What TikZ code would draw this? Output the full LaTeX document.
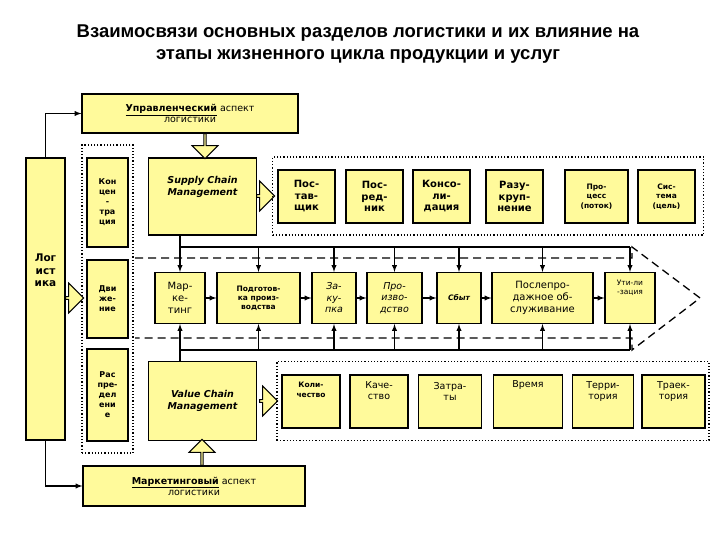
\documentclass[tikz,border=0pt]{standalone}
\usepackage{fontspec}
\setmainfont{DejaVu Sans}
\newfontfamily\titlefont{Liberation Sans}
\usetikzlibrary{arrows, shapes.arrows}
\definecolor{boxyellow}{RGB}{255,250,155}
\begin{document}
\begin{tikzpicture}[
    x=1pt, y=-1pt,
    box/.style={draw,line width=1.2pt,fill=boxyellow,align=center,inner sep=1pt,font=\fontsize{9.5}{11}\selectfont},
    group/.style={draw,dotted,line width=1.2pt},
    link/.style={draw,line width=1.3pt},
    feed/.style={draw,-latex,line width=1.3pt},
    fat/.style={single arrow,draw,line width=1pt,fill=boxyellow,minimum width=26pt,single arrow head extend=5pt,inner sep=0pt}]
  \useasboundingbox (0,0) rectangle (720,540);
  \node[font=\titlefont\bfseries\fontsize{18.5}{22}\selectfont,align=center] (title) at (358,44)
    {Взаимосвязи основных разделов логистики и их влияние на\\этапы жизненного цикла продукции и услуг};
  % aspects and the logistics column
  \node[box,minimum width=216pt,minimum height=39pt] (ctrl) at (190,113.5)
    {\underline{\textbf{Управленческий}} аспект\\логистики};
  \node[box,minimum width=222pt,minimum height=40pt] (mktasp) at (194,486)
    {\underline{\textbf{Маркетинговый}} аспект\\логистики};
  \node[box,minimum width=39pt,minimum height=282pt,font=\bfseries\fontsize{10.5}{12.5}\selectfont] (logist) at (45.5,299) {Лог\\ист\\ика\\[45pt]};
  \draw[feed] (logist.north) |- (ctrl.west);
  \draw[feed] (logist.south) |- (mktasp.west);
  % left group
  \node[group,minimum width=51pt,minimum height=308pt] (lgroup) at (107.5,299) {};
  \node[box,minimum width=41pt,minimum height=89pt,font=\bfseries\fontsize{8}{10}\selectfont] (conc) at (107.5,202.5) {Кон\\цен\\-\\тра\\ция};
  \node[box,minimum width=41pt,minimum height=78pt,font=\bfseries\fontsize{8}{10}\selectfont] (move) at (107.5,299) {Дви\\же-\\ние};
  \node[box,minimum width=41pt,minimum height=92pt,font=\bfseries\fontsize{8}{10}\selectfont] (distr) at (107.5,395) {Рас\\пре-\\дел\\ени\\е};
  % management boxes
  \node[box,minimum width=108pt,minimum height=77pt,font=\bfseries\itshape\fontsize{9.5}{12}\selectfont] (scm) at (202.5,196.5) {Supply Chain\\Management\\[10pt]};
  \node[box,minimum width=108pt,minimum height=79pt,font=\bfseries\itshape\fontsize{9.5}{12}\selectfont] (vcm) at (202.5,401) {Value Chain\\Management};
  \node[fat,minimum height=25pt,rotate=-90] (arrctrl) at (205,145.5) {};
  \node[fat,minimum height=26pt,rotate=90] (arrmkt) at (202,453) {};
  \node[fat,minimum height=18pt,minimum width=30pt] (arrlog) at (74,298) {};
  \node[fat,minimum height=18pt,minimum width=30pt] (arrscm) at (265,196) {};
  \node[fat,minimum height=18pt,minimum width=30pt] (arrvcm) at (268,401) {};
  % top group
  \node[group,minimum width=431pt,minimum height=78pt] (tgroup) at (488,196) {};
  \node[box,minimum width=57pt,minimum height=53pt,font=\bfseries\fontsize{10}{11.5}\selectfont] (supp) at (306.5,196.5) {Пос-\\тав-\\щик};
  \node[box,minimum width=57pt,minimum height=53pt,font=\bfseries\fontsize{10}{11.5}\selectfont] (inter) at (374.5,196.5) {Пос-\\ред-\\ник};
  \node[box,minimum width=57pt,minimum height=53pt,font=\bfseries\fontsize{10}{11.5}\selectfont] (consol) at (441.5,196.5) {Консо-\\ли-\\дация};
  \node[box,minimum width=57pt,minimum height=53pt,font=\bfseries\fontsize{10}{11.5}\selectfont] (split) at (514.5,196.5) {Разу-\\круп-\\нение};
  \node[box,minimum width=63pt,minimum height=53pt,font=\bfseries\fontsize{7.5}{9.5}\selectfont] (proc) at (596.5,196.5) {Про-\\цесс\\(поток)};
  \node[box,minimum width=57pt,minimum height=53pt,font=\bfseries\fontsize{7.5}{9.5}\selectfont] (sys) at (666.5,196.5) {Сис-\\тема\\(цель)};
  % life cycle band
  \draw[dashed,line width=1.3pt,dash pattern=on 8pt off 5pt] (135,258) -- (632,258) -- (632,247) -- (700,298)
    -- (632,350) -- (632,338) -- (135,338);
  \node[box,minimum width=50pt,minimum height=51pt,font=\fontsize{10}{12}\selectfont] (mark) at (180,298) {Мар-\\ке-\\тинг};
  \node[box,minimum width=83pt,minimum height=51pt,font=\bfseries\fontsize{7.5}{9}\selectfont] (prep) at (258.5,298) {Подготов-\\ка произ-\\водства};
  \node[box,minimum width=44pt,minimum height=51pt,font=\itshape\fontsize{9.5}{11.5}\selectfont] (purch) at (334,298) {За-\\ку-\\пка};
  \node[box,minimum width=55pt,minimum height=51pt,font=\itshape\fontsize{9.5}{11.5}\selectfont] (prod) at (394.5,298) {Про-\\изво-\\дство};
  \node[box,minimum width=44pt,minimum height=51pt,font=\bfseries\itshape\fontsize{7.5}{9}\selectfont] (sales) at (459,298) {Сбыт};
  \node[box,minimum width=101pt,minimum height=51pt,font=\fontsize{10}{12}\selectfont] (after) at (542.5,298) {Послепро-\\дажное об-\\служивание};
  \node[box,minimum width=50pt,minimum height=51pt,font=\fontsize{7.5}{9}\selectfont] (util) at (630,298) {Ути-ли\\-зация\\[12pt]};
  \foreach \a/\b in {mark/prep,prep/purch,purch/prod,prod/sales,sales/after,after/util}
    \draw[-latex,line width=1.3pt] (\a) -- (\b);
  \coordinate (topbus) at (180,247);
  \coordinate (lowbus) at (180,350);
  \draw[link] (scm.south -| topbus) -- (topbus) -- (topbus -| util);
  \draw[link] (vcm.north -| lowbus) -- (lowbus) -- (lowbus -| util);
  \foreach \n in {mark,prep,purch,prod,sales,after,util} {
    \draw[feed] (\n.north |- topbus) -- (\n.north);
    \draw[feed] (\n.south |- lowbus) -- (\n.south);
  }
  % bottom group
  \node[group,minimum width=432pt,minimum height=79pt] (bgroup) at (493,401) {};
  \node[box,minimum width=58pt,minimum height=53pt,font=\bfseries\fontsize{7.5}{9.5}\selectfont] (qty) at (311,401.5) {Коли-\\чество\\[14pt]};
  \node[box,minimum width=58pt,minimum height=53pt] (qual) at (379,401.5) {Каче-\\ство\\[10pt]};
  \node[box,minimum width=63pt,minimum height=53pt] (cost) at (450,401.5) {Затра-\\ты\\[10pt]};
  \node[box,minimum width=69pt,minimum height=53pt] (time) at (528,401.5) {Время\\[24pt]};
  \node[box,minimum width=61pt,minimum height=53pt] (terr) at (603,401.5) {Терри-\\тория\\[10pt]};
  \node[box,minimum width=63pt,minimum height=53pt] (path) at (673.5,401.5) {Траек-\\тория\\[10pt]};
\end{tikzpicture}
\end{document}
